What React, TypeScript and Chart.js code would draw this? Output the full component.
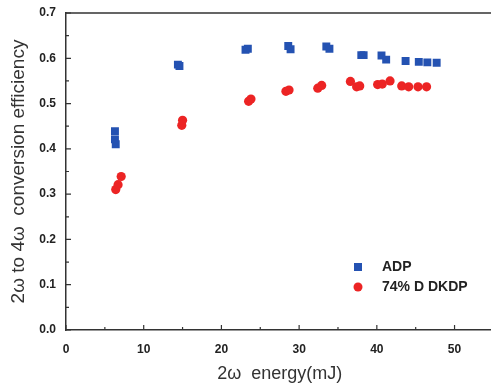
import React, { useEffect, useRef } from "react";
import { Chart, registerables } from "chart.js";

Chart.register(...registerables);

const adpX = [6.3, 6.3, 6.4, 14.4, 14.6, 23.1, 23.4, 28.6, 28.9, 33.5, 33.9, 38.0, 38.3, 40.6, 41.2, 43.7, 45.4, 46.5, 47.7];
const adpY = [0.439, 0.421, 0.41, 0.586, 0.583, 0.619, 0.621, 0.627, 0.62, 0.626, 0.621, 0.607, 0.607, 0.606, 0.597, 0.594, 0.592, 0.591, 0.59];

const dkdpX = [6.4, 6.7, 7.1, 14.9, 15.0, 23.5, 23.8, 28.3, 28.7, 32.4, 32.9, 36.6, 37.4, 37.8, 40.1, 40.7, 41.7, 43.2, 44.1, 45.3, 46.4];
const dkdpY = [0.31, 0.321, 0.339, 0.452, 0.463, 0.505, 0.51, 0.527, 0.53, 0.534, 0.54, 0.549, 0.537, 0.539, 0.542, 0.543, 0.55, 0.539, 0.537, 0.537, 0.537];

const seriesNames = ["ADP", "74% D DKDP"];
const xTitle = "2\u03c9  energy(mJ)";
const yTitle = "2\u03c9 to 4\u03c9  conversion efficiency";

const BLUE = "#2452b2";
const RED = "#ec2424";
const AXIS = "#333333";
const FONT = "'Liberation Sans', Arial, sans-serif";

const framePlugin = {
  id: "frame",
  afterDraw(chart: any) {
    const { ctx, chartArea: a, scales } = chart;
    const xs = scales.x;
    const ys = scales.y;
    ctx.save();
    ctx.strokeStyle = AXIS;
    ctx.lineWidth = 1.5;
    ctx.beginPath();
    ctx.moveTo(a.left, a.top);
    ctx.lineTo(a.right, a.top);
    ctx.lineTo(a.right, a.bottom);
    ctx.stroke();
    ctx.lineWidth = 1.2;
    ctx.beginPath();
    for (let v = 0; v <= 55; v += 5) {
      const px = xs.getPixelForValue(v);
      const len = v % 10 === 0 ? 5 : 3;
      ctx.moveTo(px, a.bottom);
      ctx.lineTo(px, a.bottom - len);
    }
    for (let i = 0; i <= 14; i++) {
      const v = i * 0.05;
      const py = ys.getPixelForValue(v);
      const len = i % 2 === 0 ? 5 : 3;
      ctx.moveTo(a.left, py);
      ctx.lineTo(a.left + len, py);
    }
    ctx.stroke();

    // legend
    const lx = 358;
    const ly1 = 267;
    const ly2 = 287;
    ctx.fillStyle = BLUE;
    ctx.fillRect(lx - 4, ly1 - 4, 8, 8);
    ctx.fillStyle = RED;
    ctx.beginPath();
    ctx.arc(lx, ly2, 4.5, 0, Math.PI * 2);
    ctx.fill();
    ctx.fillStyle = "#222";
    ctx.font = "bold 14px " + FONT;
    ctx.textBaseline = "middle";
    ctx.textAlign = "left";
    ctx.fillText(seriesNames[0], 382, ly1);
    ctx.fillText(seriesNames[1], 382, ly2);
    ctx.restore();
  },
};

export default function App() {
  const ref = useRef<HTMLCanvasElement | null>(null);
  useEffect(() => {
    if (!ref.current) return;
    const chart = new Chart(ref.current, {
      type: "scatter",
      data: {
        datasets: [
          {
            label: seriesNames[0],
            data: adpX.map((x, i) => ({ x, y: adpY[i] })),
            backgroundColor: BLUE,
            borderColor: BLUE,
            pointStyle: "rect",
            pointRadius: 5.6,
            borderWidth: 0,
          },
          {
            label: seriesNames[1],
            data: dkdpX.map((x, i) => ({ x, y: dkdpY[i] })),
            backgroundColor: RED,
            borderColor: RED,
            pointStyle: "circle",
            pointRadius: 4.6,
            borderWidth: 0,
          },
        ],
      },
      plugins: [framePlugin],
      options: {
        animation: false,
        responsive: false,
        maintainAspectRatio: false,
        layout: { padding: { left: 3, top: 13, right: 0, bottom: 0 } },
        plugins: { legend: { display: false }, tooltip: { enabled: false } },
        scales: {
          x: {
            type: "linear",
            min: 0,
            max: 55,
            grid: { display: false, drawTicks: false },
            border: { display: true, color: AXIS, width: 1.5 },
            ticks: {
              stepSize: 10,
              padding: 12,
              color: "#222",
              font: { family: FONT, size: 12, weight: "bold" },
              callback: (v: any) => (Number(v) % 10 === 0 ? String(v) : ""),
            },
            title: {
              display: true,
              text: xTitle,
              color: "#333",
              font: { family: FONT, size: 18 },
              padding: { top: 4, bottom: 3 },
            },
            afterFit: (s: any) => {
              s.height = 58;
              s.paddingLeft = 0;
              s.paddingRight = 0;
            },
          },
          y: {
            type: "linear",
            min: 0,
            max: 0.7,
            grid: { display: false, drawTicks: false },
            border: { display: true, color: AXIS, width: 1.5 },
            ticks: {
              stepSize: 0.1,
              padding: 10,
              color: "#222",
              font: { family: FONT, size: 12, weight: "bold" },
              callback: (v: any) => Number(v).toFixed(1),
            },
            title: {
              display: true,
              text: yTitle,
              color: "#333",
              font: { family: FONT, size: 19 },
              padding: { top: 4, bottom: 4 },
            },
            afterFit: (s: any) => {
              s.width = 63;
              s.paddingTop = 0;
              s.paddingBottom = 0;
            },
          },
        },
      },
    });
    return () => chart.destroy();
  }, []);
  return (
    <div style={{ position: "absolute", left: 0, top: 0, width: 491, height: 388, overflow: "hidden", background: "#fff" }}>
      <canvas ref={ref} width={499} height={388} style={{ display: "block", width: 499, height: 388 }} />
    </div>
  );
}
